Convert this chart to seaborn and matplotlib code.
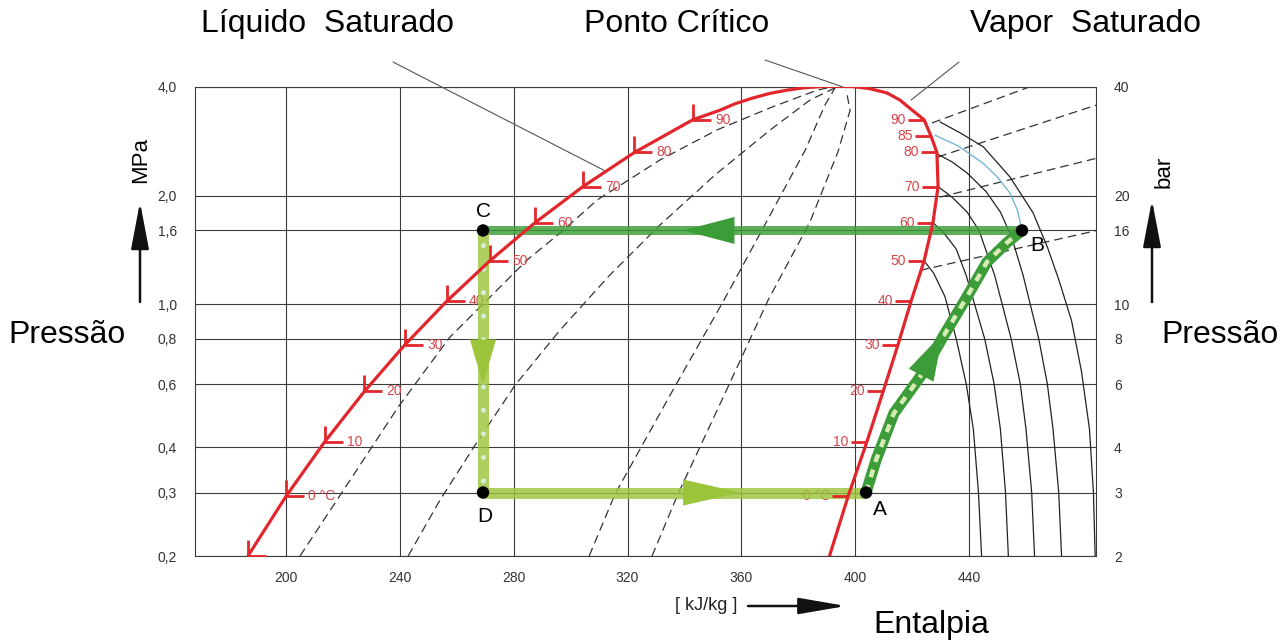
import matplotlib
matplotlib.use("Agg")
import matplotlib.pyplot as plt
from matplotlib.path import Path
from matplotlib.ticker import NullLocator
import seaborn as sns

# ---------------- data ----------------
x_ticks = [200, 240, 280, 320, 360, 400, 440]
p_ticks = [0.2, 0.3, 0.4, 0.6, 0.8, 1.0, 1.6, 2.0, 4.0]
p_tick_labels = ["0,2", "0,3", "0,4", "0,6", "0,8", "1,0", "1,6", "2,0", "4,0"]
bar_ticks = [2, 3, 4, 6, 8, 10, 16, 20, 40]
bar_tick_labels = ["2", "3", "4", "6", "8", "10", "16", "20", "40"]

# saturated liquid (temperature marks)
liq_T = [-10, 0, 10, 20, 30, 40, 50, 60, 70, 80, 90]
liq_h = [186.7, 200.0, 213.6, 227.5, 241.7, 256.4, 271.6, 287.5, 304.3, 322.4, 342.9]
liq_p = [0.2006, 0.293, 0.415, 0.572, 0.770, 1.017, 1.318, 1.682, 2.117, 2.633, 3.244]
# top of the dome (around the critical point)
top_h = [352.5, 358.0, 364.1, 370.0, 376.0, 382.0, 387.6, 393.0, 399.2, 405.0, 411.2, 415.7, 420.0]
top_p = [3.45, 3.60, 3.73, 3.84, 3.92, 3.98, 4.01, 4.02, 4.01, 3.96, 3.85, 3.68, 3.45]
# saturated vapour (temperature marks)
vap_T = [90, 85, 80, 70, 60, 50, 40, 30, 20, 10, 0, -10]
vap_h = [424.2, 426.6, 428.7, 429.1, 427.3, 424.2, 419.6, 415.0, 409.8, 404.1, 397.5, 391.0]
vap_p = [3.244, 2.926, 2.633, 2.117, 1.682, 1.318, 1.017, 0.770, 0.572, 0.415, 0.293, 0.2006]

# dashed lines inside the dome
q1_h = [204.9, 217.9, 239.4, 257.6, 271.7, 284.7, 296.3, 309.3, 331.4, 351.4, 370.8, 386.6, 392.9]
q1_p = [0.2, 0.286, 0.518, 0.81, 1.046, 1.325, 1.574, 1.943, 2.51, 3.04, 3.52, 3.92, 4.02]
q2_h = [242.9, 254.1, 266.4, 280.5, 296.3, 313.8, 331.4, 350.7, 370.1, 384.1, 392.9]
q2_p = [0.2, 0.286, 0.406, 0.596, 0.847, 1.204, 1.657, 2.28, 3.04, 3.68, 3.98]
q3_h = [306.5, 315.6, 335.0, 353.9, 370.1, 382.4, 389.4, 392.9]
q3_p = [0.2, 0.297, 0.56, 1.026, 1.766, 2.67, 3.57, 3.98]
q4_h = [328.6, 337.7, 354.0, 369.4, 384.1, 393.9, 398.2, 396.8]
q4_p = [0.2, 0.297, 0.56, 1.026, 1.69, 2.64, 3.45, 3.92]

# dashed lines in the superheated region
v1_h = [427.0, 463.0]
v1_p = [3.18, 4.05]
v2_h = [429.1, 485.0]
v2_p = [2.56, 3.57]
v3_h = [429.8, 485.0]
v3_p = [1.98, 2.54]
v4_h = [422.8, 485.0]
v4_p = [1.24, 1.60]

# superheated isotherms (solid thin)
t90_h = [429.8, 437.0, 445.0, 454.4, 462.5, 467.5, 471.5, 476.0, 479.5, 482.3, 483.7, 484.3]
t90_p = [3.20, 2.98, 2.73, 2.25, 1.79, 1.44, 1.17, 0.90, 0.65, 0.45, 0.30, 0.2]
t80_h = [429.1, 434.0, 439.3, 446.0, 451.0, 455.0, 459.0, 464.5, 467.5, 469.5, 471.5, 472.5]
t80_p = [2.60, 2.48, 2.31, 2.05, 1.80, 1.53, 1.20, 0.80, 0.60, 0.45, 0.30, 0.2]
t70_h = [429.1, 434.0, 439.3, 443.5, 449.0, 454.8, 458.0, 460.0, 462.0, 463.0]
t70_p = [2.117, 1.98, 1.80, 1.60, 1.20, 0.80, 0.60, 0.45, 0.30, 0.2]
t60_h = [427.3, 431.0, 435.5, 439.0, 445.5, 448.8, 451.0, 452.8, 453.8]
t60_p = [1.682, 1.58, 1.42, 1.20, 0.80, 0.60, 0.45, 0.30, 0.2]
t50_h = [424.2, 427.5, 431.5, 435.5, 439.0, 441.5, 443.3, 444.4]
t50_p = [1.318, 1.22, 1.05, 0.80, 0.60, 0.45, 0.30, 0.2]
# 85 degC isotherm (blue) up to point B
t85_h = [428.0, 436.0, 444.9, 450.0, 454.4, 457.0, 458.6]
t85_p = [2.94, 2.75, 2.46, 2.25, 2.03, 1.82, 1.6]

# refrigeration cycle
h_A, h_B, h_C, h_D = 403.8, 458.6, 269.2, 269.2
p_low, p_high = 0.3, 1.6
comp_h = [403.8, 407.3, 413.6, 422.8, 430.8, 438.6, 446.3, 453.3, 458.6]
comp_p = [0.3, 0.369, 0.498, 0.628, 0.810, 1.026, 1.308, 1.48, 1.6]

# ---------------- style ----------------
sns.set_theme(style="white")
plt.rcParams['font.family'] = ['Liberation Sans', 'DejaVu Sans']

RED = "#e2262b"
RED_TXT = "#d5464a"
GRID = "#3c3c3c"
GREEN = "#3b9c38"
YGREEN = "#9cc53c"
BLUE = "#76b8d6"

W, H = 1284, 641
fig = plt.figure(figsize=(W / 100, H / 100), dpi=100)
ax = fig.add_axes([195 / W, 1 - 556 / H, (1096 - 195) / W, (556 - 87) / H])

ax.set_yscale("log")
ax.set_xlim(168.0, 484.6)
ax.set_ylim(0.2, 4.0)
ax.set_xticks(x_ticks)
ax.set_xticklabels([str(v) for v in x_ticks])
ax.set_yticks(p_ticks)
ax.set_yticklabels(p_tick_labels)
ax.yaxis.set_minor_locator(NullLocator())
ax.tick_params(length=0, labelsize=10, labelcolor="#333333")
ax.tick_params(axis="y", pad=13)
ax.tick_params(axis="x", pad=11)
ax.grid(True, color=GRID, lw=0.8)
ax.set_axisbelow(True)
for s in ax.spines.values():
    s.set_color(GRID)
    s.set_linewidth(0.8)

ax2 = ax.twinx()
ax2.set_yscale("log")
ax2.set_ylim(2, 40)
ax2.set_yticks(bar_ticks)
ax2.set_yticklabels(bar_tick_labels)
ax2.yaxis.set_minor_locator(NullLocator())
ax2.tick_params(length=0, labelsize=10, labelcolor="#333333", pad=13)
ax2.grid(False)
for s in ax2.spines.values():
    s.set_visible(False)

dash = (0, (7, 4))

def line(hs, ps, **kw):
    sns.lineplot(x=hs, y=ps, sort=False, estimator=None, ax=ax, legend=False, **kw)

# dashed lines in the dome
for hs, ps in [(q1_h, q1_p), (q2_h, q2_p), (q3_h, q3_p), (q4_h, q4_p)]:
    line(hs, ps, color="#333333", lw=0.9, linestyle=dash, zorder=2)
for hs, ps in [(v1_h, v1_p), (v2_h, v2_p), (v3_h, v3_p), (v4_h, v4_p)]:
    line(hs, ps, color="#333333", lw=0.9, linestyle=dash, zorder=2)
# isotherms
for hs, ps in [(t90_h, t90_p), (t80_h, t80_p), (t70_h, t70_p), (t60_h, t60_p), (t50_h, t50_p)]:
    line(hs, ps, color="#222222", lw=0.9, zorder=2)
line(t85_h, t85_p, color=BLUE, lw=1.0, zorder=2)

# temperature mark labels (under the cycle bands)
for T, h, p in zip(liq_T, liq_h, liq_p):
    if T < 0:
        continue
    lab = "0 °C" if T == 0 else str(T)
    ax.annotate(lab, xy=(h, p), xytext=(16, 0), textcoords="offset points",
                ha="left", va="center", color=RED_TXT, fontsize=10, zorder=3)
for T, h, p in zip(vap_T, vap_h, vap_p):
    if T < 0:
        continue
    lab = "0 °C" if T == 0 else str(T)
    ax.annotate(lab, xy=(h, p), xytext=(-13, 0), textcoords="offset points",
                ha="right", va="center", color=RED_TXT, fontsize=10, zorder=3)

# cycle bands
line([h_C, h_B], [p_high, p_high], color=GREEN, lw=6.5, alpha=0.82, zorder=4,
     solid_capstyle="butt")
line([h_C, h_D], [p_high, p_low], color=YGREEN, lw=8, alpha=0.82, zorder=4,
     solid_capstyle="butt")
line([h_D, h_A], [p_low, p_low], color=YGREEN, lw=8, alpha=0.82, zorder=4,
     solid_capstyle="butt")
ax.plot([h_C, h_D], [1.46, p_low], color="#d6eedd", lw=3.6,
        linestyle=(0, (0.01, 4.7)), dash_capstyle="round", zorder=4.5)
line(comp_h, comp_p, color=GREEN, lw=8, zorder=4, solid_capstyle="butt")
line(comp_h, comp_p, color="#d8ebb5", lw=3.2, linestyle=(0, (1.8, 1.8)), zorder=4.5)

# saturation dome
dome_h = liq_h + top_h + vap_h
dome_p = liq_p + top_p + vap_p
line(dome_h, dome_p, color=RED, lw=2.3, zorder=5)

liq_mark = Path([(0, 1.0), (0, 0), (1.1, 0)], [Path.MOVETO, Path.LINETO, Path.LINETO])
vap_mark = Path([(0, 0), (-1.0, 0)], [Path.MOVETO, Path.LINETO])
ax.plot(liq_h, liq_p, ls="none", marker=liq_mark, ms=26, mfc="none", mec=RED, mew=2.0, zorder=5)
ax.plot(vap_h[:-1], vap_p[:-1], ls="none", marker=vap_mark, ms=23, mfc="none", mec=RED, mew=2.0, zorder=5)

# arrow heads of the cycle
def head(tip, base, color, L, Wd):
    ax.annotate("", xy=tip, xytext=base, zorder=6,
                arrowprops=dict(arrowstyle=f"-|>,head_length={L},head_width={Wd}",
                                color=color, lw=0, shrinkA=0, shrinkB=0, mutation_scale=10))

head((339.5, p_high), (358.0, p_high), GREEN, 3.7, 0.97)
head((h_C, 0.6), (h_C, 0.8), YGREEN, 3.2, 0.94)
head((359.5, p_low), (339.5, p_low), YGREEN, 4.1, 0.94)
head((430.8, 0.83), (422.8, 0.627), GREEN, 3.4, 1.0)

# points
sns.scatterplot(x=[h_A, h_B, h_C, h_D], y=[p_low, p_high, p_high, p_low], color="black",
                s=80, ax=ax, zorder=7, edgecolor="none", legend=False)
for lab, h, p, dx, dy in [("A", h_A, p_low, 10, -12), ("B", h_B, p_high, 11, -11),
                          ("C", h_C, p_high, 0, 14), ("D", h_D, p_low, 1, -17)]:
    ax.annotate(lab, xy=(h, p), xytext=(dx, dy), textcoords="offset points",
                ha="center", va="center", fontsize=15, color="black", zorder=8)

# leader lines to the titles
def leader(end, start_px):
    ax.annotate("", xy=end, xycoords="data",
                xytext=(start_px[0], H - start_px[1]), textcoords="figure pixels",
                arrowprops=dict(arrowstyle="-", color="#555555", lw=0.8,
                                shrinkA=0, shrinkB=0), annotation_clip=False)

leader((311.7, 2.35), (393, 62))
leader((395.7, 4.0), (765, 60))
leader((419.6, 3.68), (959, 62))

# figure texts
def ftext(x, y, s, **kw):
    kw.setdefault("color", "black")
    fig.text(x / W, 1 - y / H, s, ha="center", va="center", **kw)

ftext(328, 24, "Líquido  Saturado", fontsize=23)
ftext(677, 24, "Ponto Crítico", fontsize=23)
ftext(1085, 24, "Vapor  Saturado", fontsize=23)
ftext(67, 335, "Pressão", fontsize=23)
ftext(1220, 335, "Pressão", fontsize=23)
ftext(931, 625, "Entalpia", fontsize=23)
ftext(141, 160, "MPa", fontsize=16, rotation=90)
ftext(1164, 172, "bar", fontsize=16, rotation=90)
ftext(706, 606, "[ kJ/kg ]", fontsize=13, color="#222222")

def farrow(p0, p1, L, Wd):
    fig.add_artist(matplotlib.patches.FancyArrowPatch(
        (p0[0] / W, 1 - p0[1] / H), (p1[0] / W, 1 - p1[1] / H),
        transform=fig.transFigure, arrowstyle=f"-|>,head_length={L},head_width={Wd}",
        mutation_scale=10, color="#111111", lw=1.8, shrinkA=0, shrinkB=0))

farrow((140, 302), (140, 202), 2.9, 0.55)
farrow((1152, 302), (1152, 200), 2.9, 0.55)
farrow((748, 606), (846, 606), 2.9, 0.5)

fig.savefig("out.png", dpi=100)
